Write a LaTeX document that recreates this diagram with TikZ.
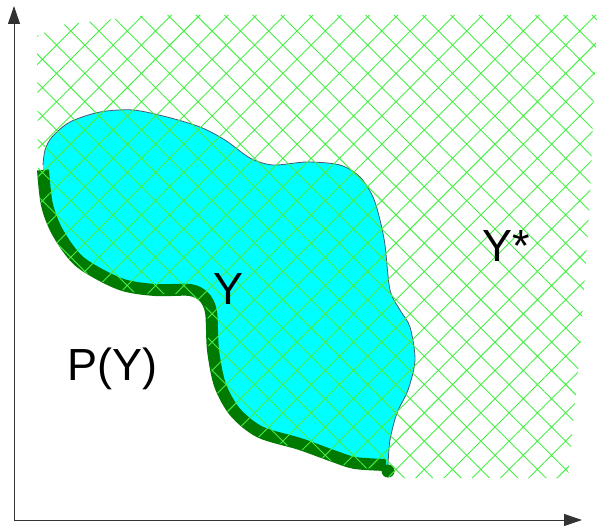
\documentclass[tikz,border=0pt]{standalone}
\usepackage{fontspec}
\setmainfont{Liberation Sans}
\usetikzlibrary{arrows.meta,patterns.meta}
\definecolor{setcyan}{RGB}{0,255,255}
\definecolor{rimgreen}{RGB}{0,122,0}
\definecolor{hatchgreen}{RGB}{70,238,70}
\definecolor{edgegray}{RGB}{70,90,110}

\begin{document}
\begin{tikzpicture}[x=1pt,y=-1pt,line width=.35pt,
  axis/.style={draw=black!80,line width=1pt,-{Triangle[length=18pt,width=12pt]}},
  rim/.style={draw=rimgreen,line width=12pt,line cap=butt,line join=round},
  edge/.style={draw=edgegray,line width=.8pt},
  hatch/.style={pattern={Hatch[angle=45,distance=20pt,line width=.9pt]},pattern color=hatchgreen},
  lbl/.style={font=\fontsize{45}{50}\selectfont,anchor=base west,inner sep=0pt}]
\useasboundingbox (0,0) rectangle (602,526);
% the set Y
\fill[setcyan] plot[smooth] coordinates {(43,170) (47,205) (58,233) (80,262) (120,284) (155,290) (190,290) (204,297) (211,312) (213,350) (220,385) (235,412) (260,432) (300,444) (333,456) (355,463) (386,465)}
  -- plot[smooth] coordinates {(388,465) (390,440) (397,413) (408,390) (415,360) (410,327) (400,310) (390,290) (385,245) (380,220) (373,197) (360,177) (340,165) (307,162) (273,165) (250,158) (225,140) (200,127) (167,117) (133,110) (100,112) (70,122) (52,137) (45,150) (43,165)} -- cycle;
\draw[edge] plot[smooth] coordinates {(388,465) (390,440) (397,413) (408,390) (415,360) (410,327) (400,310) (390,290) (385,245) (380,220) (373,197) (360,177) (340,165) (307,162) (273,165) (250,158) (225,140) (200,127) (167,117) (133,110) (100,112) (70,122) (52,137) (45,150) (43,165)};
% boundary towards P(Y)
\draw[rim] plot[smooth] coordinates {(43,170) (47,205) (58,233) (80,262) (120,284) (155,290) (190,290) (204,297) (211,312) (213,350) (220,385) (235,412) (260,432) (300,444) (333,456) (355,463) (386,465)};
\fill[rimgreen] (388,471) circle[radius=6.5];
% the set Y*
\fill[hatch] (37,36) -- (60,25) -- (150,15) -- (597,15) -- (590,200) -- (580,350) -- (568,478) -- (390,478)
  -- plot[smooth] coordinates {(382,469) (351,467) (329,460) (296,448) (256,436) (231,416) (216,389) (209,354) (207,312) (200,301) (186,294) (151,294) (116,288) (76,266) (53,236) (42,209) (38,170)} -- cycle;
% axes
\coordinate (O) at (14,520);\coordinate (xend) at (582,520);\coordinate (yend) at (14,6);
\draw[axis] (O)--(xend);\draw[axis] (O)--(yend);
\node[lbl] (Y) at (213,305) {Y};
\node[lbl] (Ystar) at (482,262) {Y*};
\node[lbl] (PY) at (67,380) {P(Y)};
\end{tikzpicture}
\end{document}
